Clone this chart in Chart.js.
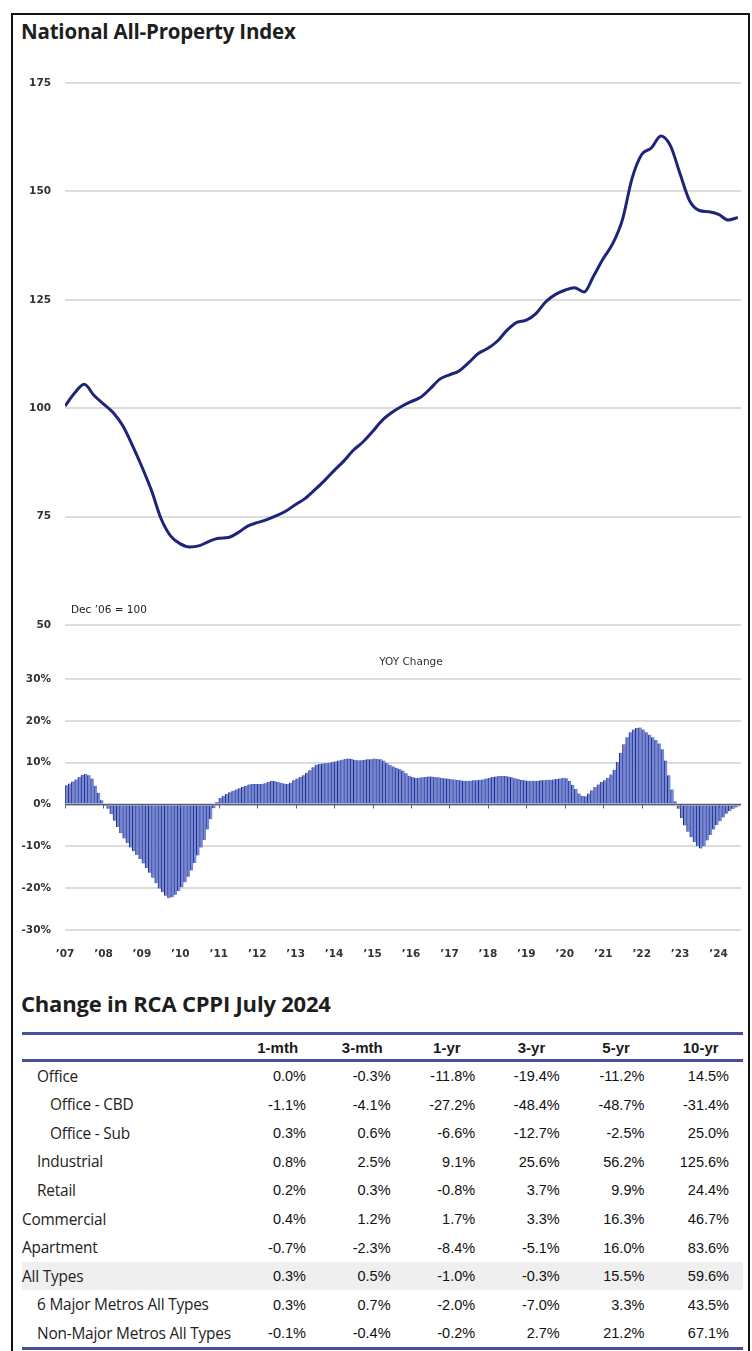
<!DOCTYPE html>
<html>
<head>
<meta charset="utf-8">
<script src="https://cdn.jsdelivr.net/npm/chart.js@4.4.1/dist/chart.umd.min.js"></script>
<style>
  body { margin: 0; width: 752px; height: 1351px; overflow: hidden; background: #fff; position: relative; font-family: Arial, "Liberation Sans", sans-serif; color: #222; }
  .frame { position: absolute; left: 11px; top: 13px; width: 739px; height: 1400px; border: 2px solid #111; box-sizing: border-box; }
  .title { position: absolute; left: 21px; font-family: "Open Sans", sans-serif; font-weight: 700; font-size: 20.5px; color: #1e1e1e; white-space: nowrap; letter-spacing: -0.2px; }
  #topWrap { position: absolute; left: 0; top: 60px; }
  #yoyWrap { position: absolute; left: 0; top: 640px; }
  #tbl { position: absolute; left: 22px; top: 1032px; width: 721px; table-layout: fixed; border-collapse: separate; border-spacing: 0;
         border-top: 3px solid #46519c; border-bottom: 3px solid #46519c; }
  #tbl th { height: 27px; padding: 0 0 0 28px; font: bold 15px Arial, sans-serif; text-align: center; color: #1a1a1a; border-bottom: 3px solid #46519c; box-sizing: border-box; }
  #tbl td { height: 28.55px; padding: 0; font-size: 14.5px; text-align: right; color: #111; white-space: nowrap; }
  #tbl td.lbl { text-align: left; font-family: "Open Sans", sans-serif; font-size: 15.4px; color: #222; letter-spacing: -0.2px; }
  #tbl tr.hl td { background: #efefef; }
</style>
</head>
<body>
<div class="frame"></div>
<div class="title" style="top:17px">National All-Property Index</div>
<div id="topWrap"><canvas id="indexChart" width="752" height="590"></canvas></div>
<div id="yoyWrap"><canvas id="yoyChart" width="752" height="325"></canvas></div>
<div class="title" style="top:988px;font-size:22px">Change in RCA CPPI July 2024</div>
<table id="tbl"></table>

<script>
// National All-Property Index, quarterly readings (Jan, Apr, Jul, Oct) from Jan 2007 to Jul 2024
const startYear = 2007;
const indexValues = [
  100.5, 103.5, 105.5, 103.0,   // 2007
  101.0, 99.0, 96.0, 91.5,      // 2008
  86.5, 81.0, 74.5, 70.5,       // 2009
  68.7, 68.0, 68.3, 69.3,       // 2010
  70.0, 70.2, 71.3, 72.8,       // 2011
  73.6, 74.3, 75.2, 76.3,       // 2012
  77.8, 79.2, 81.2, 83.3,       // 2013
  85.6, 87.8, 90.3, 92.2,       // 2014
  94.6, 97.2, 99.0, 100.4,      // 2015
  101.5, 102.5, 104.5, 106.7,   // 2016
  107.7, 108.6, 110.5, 112.6,   // 2017
  113.8, 115.5, 118.0, 119.8,   // 2018
  120.3, 121.8, 124.5, 126.2,   // 2019
  127.2, 127.8, 126.8, 130.5,   // 2020
  134.5, 138.0, 143.5, 153.0,   // 2021
  158.5, 160.0, 162.8, 160.5,   // 2022
  154.0, 147.8, 145.6, 145.3,   // 2023
  144.7, 143.4, 144.0           // 2024
];

// YOY change (%), monthly Jan 2007 - Jul 2024
const yoyValues = [
  4.6, 5.0, 5.5, 6.0, 6.6, 7.1, 7.3, 7.0, 6.2, 4.5, 2.8, 1.0,                 // 2007
  -0.1, -1.0, -2.3, -3.9, -5.4, -6.9, -8.1, -9.2, -10.3, -11.2, -12.1, -13.0, // 2008
  -14.1, -15.2, -16.3, -17.5, -18.8, -20.1, -21.0, -21.8, -22.4, -22.2, -21.6, -20.7, // 2009
  -19.8, -18.6, -17.3, -15.8, -14.0, -12.2, -10.3, -8.5, -6.0, -3.5, -0.9, 0.6, // 2010
  1.6, 2.1, 2.5, 2.9, 3.3, 3.6, 3.9, 4.2, 4.5, 4.8, 4.9, 4.9,                 // 2011
  4.9, 4.9, 5.1, 5.4, 5.7, 5.6, 5.4, 5.2, 5.0, 4.9, 5.2, 5.8,                 // 2012
  6.2, 6.6, 7.0, 7.6, 8.2, 8.9, 9.5, 9.7, 9.8, 9.9, 10.0, 10.2,               // 2013
  10.3, 10.5, 10.7, 10.9, 11.0, 10.9, 10.7, 10.6, 10.6, 10.7, 10.8, 10.8,     // 2014
  11.0, 10.9, 10.8, 10.5, 10.0, 9.5, 9.1, 8.8, 8.5, 8.1, 7.5, 6.9,            // 2015
  6.6, 6.4, 6.4, 6.5, 6.6, 6.7, 6.7, 6.6, 6.5, 6.4, 6.3, 6.2,                 // 2016
  6.1, 6.0, 5.9, 5.8, 5.7, 5.7, 5.7, 5.8, 5.8, 5.9, 6.0, 6.2,                 // 2017
  6.4, 6.6, 6.7, 6.8, 6.8, 6.8, 6.7, 6.5, 6.3, 6.1, 5.9, 5.8,                 // 2018
  5.7, 5.7, 5.7, 5.7, 5.8, 5.8, 5.9, 5.9, 6.0, 6.1, 6.2, 6.4,                 // 2019
  6.3, 5.6, 4.7, 3.7, 2.6, 2.1, 2.0, 2.6, 3.4, 4.2, 4.8, 5.4,                 // 2020
  5.8, 6.4, 7.2, 8.3, 10.2, 12.4, 14.4, 16.1, 17.3, 17.9, 18.3, 18.4,         // 2021
  17.9, 17.3, 16.7, 16.1, 15.4, 14.6, 13.2, 10.5, 7.0, 3.6, 0.8, -1.0,        // 2022
  -3.3, -5.0, -6.5, -7.8, -9.0, -10.0, -10.5, -10.0, -8.6, -7.3, -6.0, -4.9,  // 2023
  -4.0, -3.1, -2.2, -1.6, -1.1, -0.7, -0.4                                    // 2024
];

const yearTicks = [2007, 2008, 2009, 2010, 2011, 2012, 2013, 2014, 2015, 2016, 2017, 2018, 2019, 2020, 2021, 2022, 2023, 2024];
const yearLabels = ['’07', '’08', '’09', '’10', '’11', '’12', '’13', '’14', '’15', '’16', '’17', '’18', '’19', '’20', '’21', '’22', '’23', '’24'];
const indexTicks = [50, 75, 100, 125, 150, 175];
const yoyTicks = [-30, -20, -10, 0, 10, 20, 30];

// Change in RCA CPPI July 2024 table
const tableColumns = ['1-mth', '3-mth', '1-yr', '3-yr', '5-yr', '10-yr'];
const tableRows = ['Office', 'Office - CBD', 'Office - Sub', 'Industrial', 'Retail', 'Commercial', 'Apartment', 'All Types', '6 Major Metros All Types', 'Non-Major Metros All Types'];
const tableValues = [
  [0.0, -0.3, -11.8, -19.4, -11.2, 14.5],
  [-1.1, -4.1, -27.2, -48.4, -48.7, -31.4],
  [0.3, 0.6, -6.6, -12.7, -2.5, 25.0],
  [0.8, 2.5, 9.1, 25.6, 56.2, 125.6],
  [0.2, 0.3, -0.8, 3.7, 9.9, 24.4],
  [0.4, 1.2, 1.7, 3.3, 16.3, 46.7],
  [-0.7, -2.3, -8.4, -5.1, 16.0, 83.6],
  [0.3, 0.5, -1.0, -0.3, 15.5, 59.6],
  [0.3, 0.7, -2.0, -7.0, 3.3, 43.5],
  [-0.1, -0.4, -0.2, 2.7, 21.2, 67.1]
];

const endYear = startYear + yoyValues.length / 12;
const tickFont = { family: '"DejaVu Sans", Verdana, sans-serif', size: 10.5, weight: 'bold' };
const noteFont = '10.5px "DejaVu Sans", Verdana, sans-serif';

// Top chart: index line
new Chart(document.getElementById('indexChart').getContext('2d'), {
  type: 'line',
  data: {
    datasets: [{
      data: indexValues.map((v, i) => ({ x: startYear + i / 4, y: v })),
      borderColor: '#1c2578',
      borderWidth: 3,
      pointRadius: 0,
      cubicInterpolationMode: 'monotone',
      fill: false
    }]
  },
  options: {
    responsive: false,
    animation: false,
    layout: { padding: { top: 23, bottom: 25, left: 0, right: 11 } },
    plugins: { legend: { display: false }, tooltip: { enabled: false } },
    scales: {
      x: { type: 'linear', min: startYear, max: endYear, display: false },
      y: {
        min: 50, max: 175,
        afterBuildTicks: s => { s.ticks = indexTicks.map(v => ({ value: v })); },
        afterFit: s => { s.width = 65; },
        border: { display: false },
        grid: { color: '#dcdcdc', lineWidth: 2, drawTicks: false },
        ticks: { padding: 14, color: '#333', font: tickFont }
      }
    }
  },
  plugins: [{
    id: 'baseNote',
    afterDraw(chart) {
      const { ctx, chartArea } = chart;
      ctx.save();
      ctx.fillStyle = '#222';
      ctx.font = noteFont;
      ctx.textBaseline = 'middle';
      ctx.fillText('Dec ’06 = 100', chartArea.left + 6, chartArea.bottom - 15);
      ctx.restore();
    }
  }]
});

// Bottom chart: YOY change bars
new Chart(document.getElementById('yoyChart').getContext('2d'), {
  type: 'bar',
  data: {
    datasets: [{
      data: yoyValues.map((v, i) => ({ x: startYear + (i + 0.5) / 12, y: v })),
      backgroundColor: '#7588da',
      borderColor: '#242c7a',
      borderWidth: { left: 1, right: 0, top: 0, bottom: 0 },
      borderSkipped: false,
      barPercentage: 1,
      categoryPercentage: 1
    }]
  },
  options: {
    responsive: false,
    animation: false,
    layout: { padding: { top: 39, bottom: 5, left: 0, right: 11 } },
    plugins: { legend: { display: false }, tooltip: { enabled: false } },
    scales: {
      x: {
        type: 'linear', min: startYear, max: endYear, offset: false,
        afterBuildTicks: s => { s.ticks = yearTicks.map(v => ({ value: v })); },
        afterFit: s => { s.height = 30; },
        border: { display: false },
        grid: { display: false },
        ticks: {
          padding: 10, maxRotation: 0, autoSkip: false, color: '#333', font: tickFont,
          callback: v => yearLabels[yearTicks.indexOf(v)]
        }
      },
      y: {
        min: -30, max: 30,
        afterBuildTicks: s => { s.ticks = yoyTicks.map(v => ({ value: v })); },
        afterFit: s => { s.width = 65; },
        border: { display: false },
        grid: { color: '#dcdcdc', lineWidth: 2, drawTicks: false },
        ticks: { padding: 14, color: '#333', font: tickFont, callback: v => v + '%' }
      }
    }
  },
  plugins: [{
    id: 'zeroAndTitle',
    afterDatasetsDraw(chart) {
      const { ctx, chartArea, scales } = chart;
      const y0 = scales.y.getPixelForValue(0);
      ctx.save();
      ctx.strokeStyle = '#5a5f78';
      ctx.lineWidth = 1.5;
      ctx.beginPath();
      ctx.moveTo(chartArea.left, y0);
      ctx.lineTo(chartArea.right, y0);
      ctx.stroke();
      ctx.lineWidth = 1;
      scales.x.ticks.forEach(t => {
        const px = Math.round(scales.x.getPixelForValue(t.value)) + 0.5;
        ctx.beginPath();
        ctx.moveTo(px, y0);
        ctx.lineTo(px, y0 + 4);
        ctx.stroke();
      });
      ctx.fillStyle = '#333';
      ctx.font = noteFont;
      ctx.textAlign = 'center';
      ctx.textBaseline = 'middle';
      ctx.fillText('YOY Change', (chartArea.left + chartArea.right) / 2 + 8, chartArea.top - 17);
      ctx.restore();
    }
  }]
});

// Table
const indent = { 'Office': 15, 'Office - CBD': 28, 'Office - Sub': 28, 'Industrial': 15, 'Retail': 15, '6 Major Metros All Types': 15, 'Non-Major Metros All Types': 15 };
const tbl = document.getElementById('tbl');
let html = '<colgroup><col style="width:199.4px">' + tableColumns.map(() => '<col style="width:84.6px">').join('') + '<col style="width:14px"></colgroup>';
html += '<tr><th style="padding:0"></th>' + tableColumns.map(c => '<th>' + c + '</th>').join('') + '<th style="padding:0"></th></tr>';
tableRows.forEach((name, r) => {
  html += '<tr' + (name === 'All Types' ? ' class="hl"' : '') + '>';
  html += '<td class="lbl" style="padding-left:' + (indent[name] || 0) + 'px">' + name + '</td>';
  html += tableValues[r].map(v => '<td>' + v.toFixed(1) + '%</td>').join('');
  html += '<td></td></tr>';
});
tbl.innerHTML = html;
</script>
</body>
</html>
